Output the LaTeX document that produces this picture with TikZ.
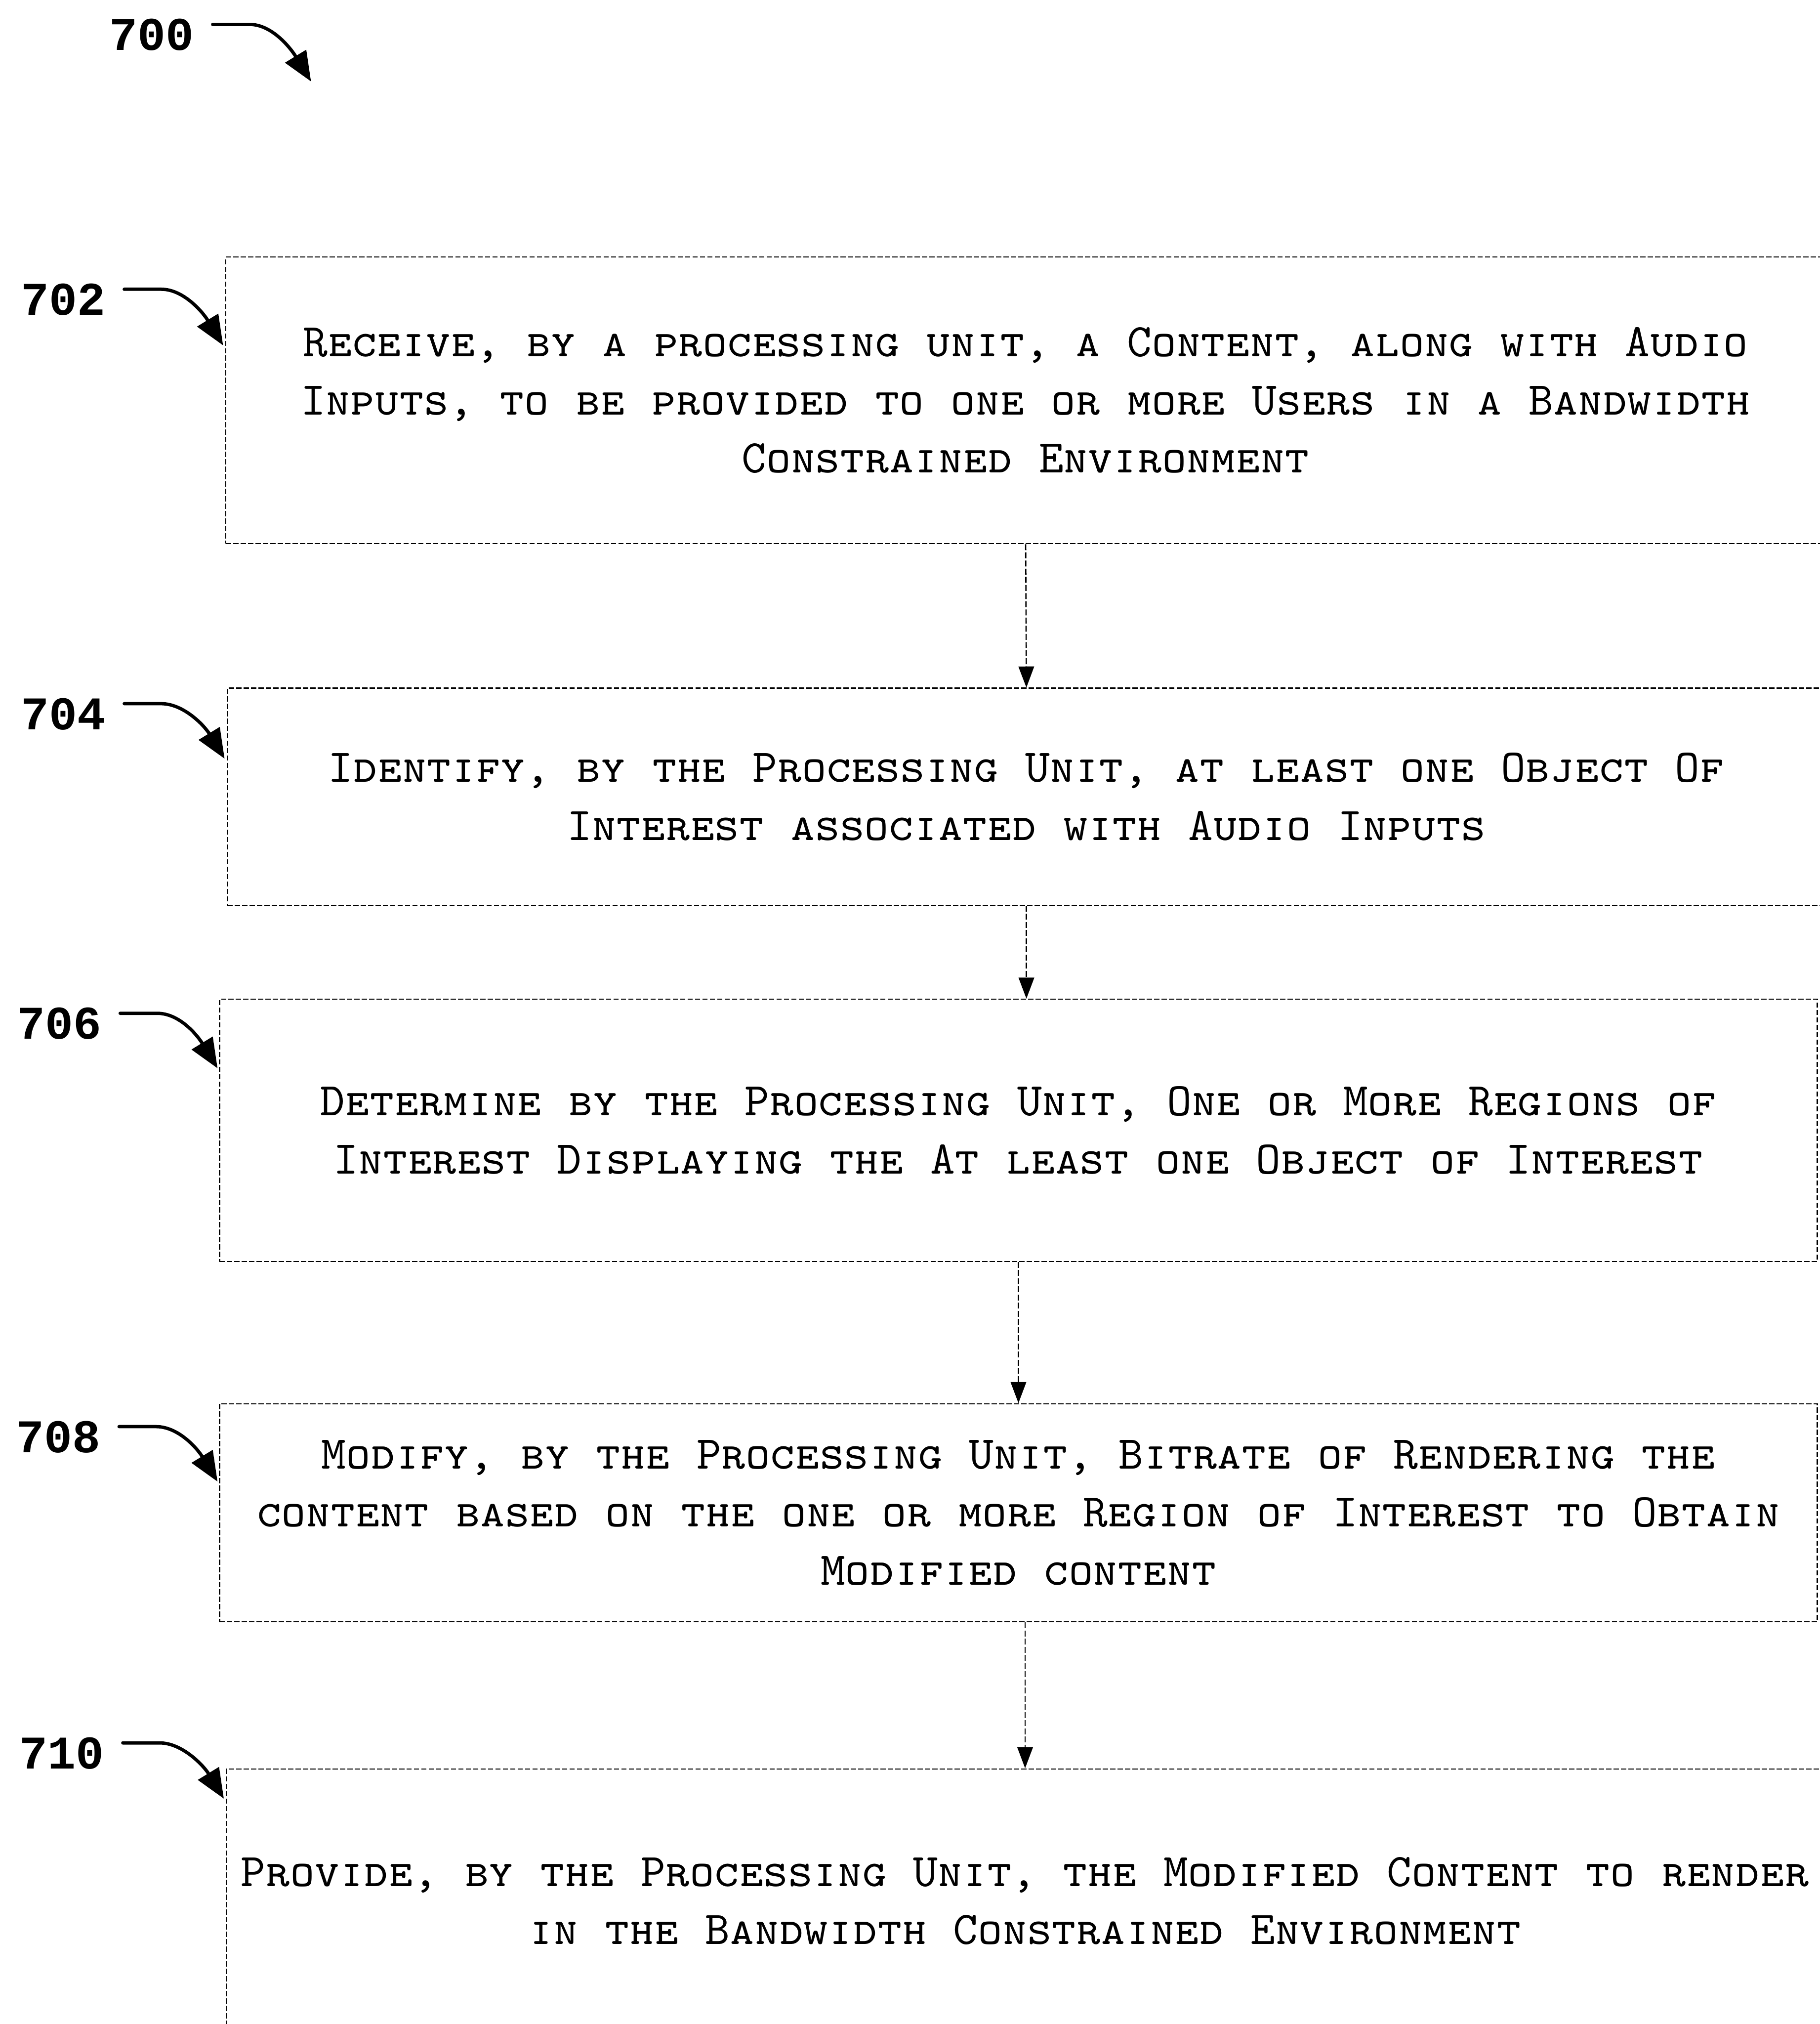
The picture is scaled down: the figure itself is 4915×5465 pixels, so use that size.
\documentclass[tikz,border=0pt]{standalone}
\usepackage{fontspec}
\newfontfamily\labfont{Liberation Mono}
\usetikzlibrary{arrows.meta,calc}
\begin{document}
\begin{tikzpicture}[x=0.1mm,y=-0.1mm,
  stepbox/.style={draw, line width=0.3mm, dash pattern=on 1.4mm off 0.6mm, inner sep=0pt, align=center,
    font=\ttfamily\scshape\fontsize{36pt}{44.6pt}\selectfont,
    execute at begin node={\frenchspacing\spaceskip=7.2mm\relax}},
  reflab/.style={font=\labfont\bfseries\fontsize{36pt}{40pt}\selectfont, inner sep=0pt},
  leader/.style={line width=0.9mm, line cap=round, -{Triangle[length=8mm,width=6.5mm]}},
  conn/.style={line width=0.35mm, dash pattern=on 1.6mm off 0.6mm, -{Triangle[length=5.7mm,width=4.2mm]}}]
\useasboundingbox (0,0) rectangle (4915,5465);
\clip (0,0) rectangle (4915,5465);

% boxes
\node[stepbox, minimum width=432mm, text width=428mm, minimum height=77.4mm] (b702) at (2770,1081)
 {Receive, by a processing unit, a Content, along with Audio\\Inputs, to be provided to one or more Users in a Bandwidth\\Constrained Environment};
\node[stepbox, minimum width=431.6mm, text width=428mm, minimum height=58.6mm] (b704) at (2772,2151)
 {Identify, by the Processing Unit, at least one Object Of\\Interest associated with Audio Inputs};
\node[stepbox, minimum width=431.5mm, text width=428mm, minimum height=70.8mm] (b706) at (2750.5,3052)
 {Determine by the Processing Unit, One or More Regions of\\Interest Displaying the At least one Object of Interest};
\node[stepbox, minimum width=431.5mm, text width=428mm, minimum height=58.9mm] (b708) at (2750.5,4084.5)
 {Modify, by the Processing Unit, Bitrate of Rendering the\\content based on the one or more Region of Interest to Obtain\\Modified content};
\node[stepbox, minimum width=431.3mm, text width=428mm, minimum height=71.4mm] (b710) at (2768.5,5133)
 {Provide, by the Processing Unit, the Modified Content to render\\in the Bandwidth Constrained Environment};

% connectors
\draw[conn] (b702.south) -- (b704.north);
\draw[conn] (b704.south) -- (b704.south |- b706.north);
\draw[conn] (b706.south) -- (b708.north);
\draw[conn] (b708.south -| b710.north) -- (b710.north);

% reference labels
\node[reflab] (l700) at (410,94) {700};
\node[reflab] (l702) at (171,809) {702};
\node[reflab] (l704) at (171,1928) {704};
\node[reflab] (l706) at (160,2764) {706};
\node[reflab] (l708) at (157,3880) {708};
\node[reflab] (l710) at (167,4734) {710};

\coordinate (t700) at (840,220);
\coordinate (t702) at ($(b702.north west)+(-6,240)$);
\coordinate (t704) at ($(b704.north west)+(-6,192)$);
\coordinate (t706) at ($(b706.north west)+(-4,188)$);
\coordinate (t708) at ($(b708.north west)+(-4,212)$);
\coordinate (t710) at ($(b710.north west)+(-6,82)$);

\foreach \n in {700,702,704,706,708,710}{
  \draw[leader] ($(l\n.east)+(50,-28)$) -- ++(100,0) .. controls +(60,0) and +(-55,-90) .. (t\n);
}
\end{tikzpicture}
\end{document}
